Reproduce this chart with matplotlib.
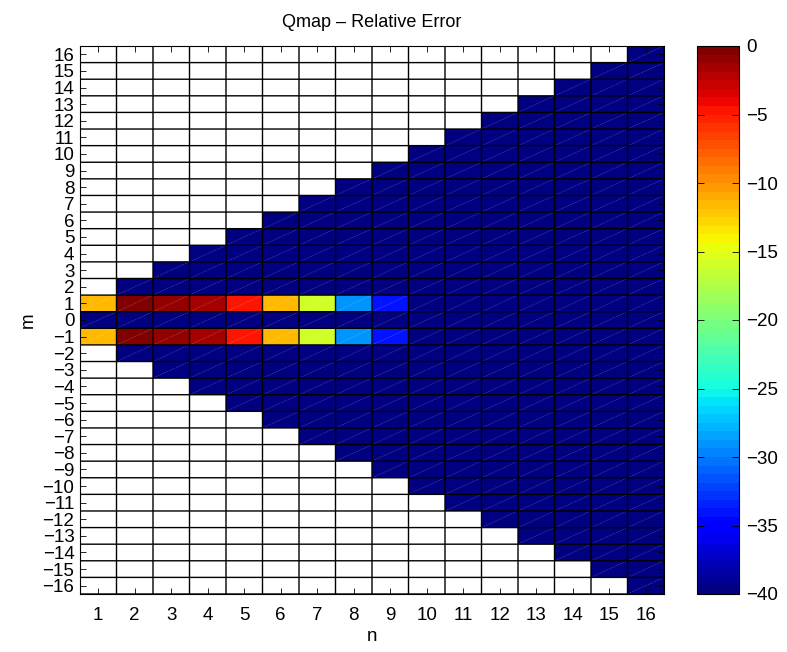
import numpy as np
import matplotlib
matplotlib.use("Agg")
import matplotlib.pyplot as plt

plt.rcParams['font.family'] = ['Liberation Sans', 'DejaVu Sans']

n_values = list(range(1, 17))
m_values = list(range(-16, 17))
# relative error for rows m = +1 and m = -1, n = 1..16
row_pm1 = [-11.7, -0.5, -0.8, -1.3, -4.4, -11.7, -16.2, -29.2, -34.2,
           -40, -40, -40, -40, -40, -40, -40]
floor_value = -40
title = "Qmap \u2013 Relative Error"
cbar_ticks = [0, -5, -10, -15, -20, -25, -30, -35, -40]

# build matrix: NaN where |m| > n
Z = np.full((len(m_values), len(n_values)), np.nan)
for i, m in enumerate(m_values):
    for j, n in enumerate(n_values):
        if abs(m) <= n:
            Z[i, j] = row_pm1[j] if abs(m) == 1 else floor_value

fig = plt.figure(figsize=(7.87, 6.52), dpi=100)
ax = fig.add_axes([80/787, 1-594/652, (664-80)/787, (594-46)/652])
cax = fig.add_axes([697/787, 1-594/652, (739-697)/787, (594-46)/652])

cmap = plt.get_cmap('jet', 64).copy()
cmap.set_bad('white')
xe = np.arange(len(n_values) + 1) + 0.5
ye = np.arange(len(m_values) + 1) - 16.5
mesh = ax.pcolormesh(xe, ye, np.ma.masked_invalid(Z), cmap=cmap, vmin=-40, vmax=0,
                     edgecolors='none', linewidth=0)

# faint diagonal rendering seams in colored cells
for i, m in enumerate(m_values):
    for j, n in enumerate(n_values):
        if not np.isnan(Z[i, j]):
            ax.plot([xe[j], xe[j+1]], [ye[i], ye[i+1]], color='white',
                    alpha=0.22, lw=0.6, ls=(0, (2, 1)))

# cell grid lines
ax.hlines(ye, xe[0], xe[-1], colors='black', linewidth=1.0, snap=False)
ax.vlines(xe, ye[0], ye[-1], colors='black', linewidth=1.0, snap=False)

ax.set_xlim(0.5, 16.5)
ax.set_ylim(-16.5, 16.5)
ax.set_xticks(n_values)
ax.set_yticks(m_values)
ax.tick_params(direction='in', length=4, labelsize=13.5, top=True, right=True,
               width=0.6)
ax.tick_params(axis='x', pad=9)
ax.tick_params(axis='y', pad=4)
ax.set_xlabel('n', fontsize=13.5, labelpad=3)
ax.set_ylabel('m', fontsize=13.5, labelpad=4)
ax.set_title(title, fontsize=13, pad=14)
for s in ax.spines.values():
    s.set_linewidth(0.8)

cb = fig.colorbar(mesh, cax=cax, ticks=cbar_ticks)
cb.ax.tick_params(direction='in', length=5, labelsize=13.5, left=True, right=True,
                  width=0.6, pad=5)
cb.outline.set_linewidth(0.8)

fig.savefig('out.png', dpi=100)
